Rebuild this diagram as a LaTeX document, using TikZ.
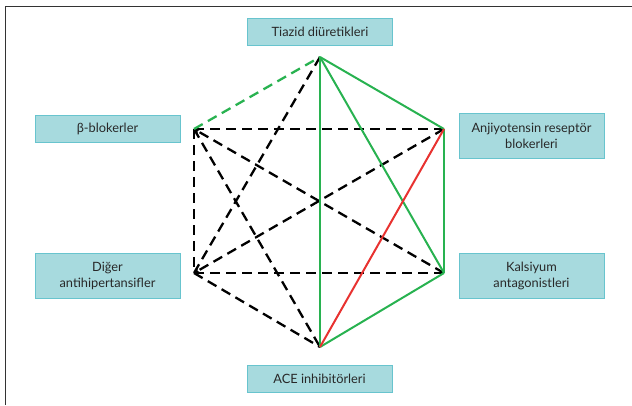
\documentclass[tikz,border=0pt]{standalone}
\usepackage{fontspec}
\setmainfont{Lato}
\usetikzlibrary{arrows.meta,positioning}

\definecolor{boxFill}{RGB}{167,218,222}
\definecolor{boxLine}{RGB}{104,196,206}
\definecolor{textGray}{RGB}{40,40,40}
\definecolor{lineGreen}{RGB}{40,178,80}
\definecolor{lineRed}{RGB}{232,50,48}

\begin{document}
\begin{tikzpicture}[
    x=1pt, y=-1pt,
    font=\fontsize{12.8}{16}\selectfont,
    drugBox/.style={
        rectangle, draw=boxLine, line width=1pt, fill=boxFill,
        text=textGray, minimum width=145pt, align=center, inner sep=3pt
    },
    oneLine/.style={minimum height=27pt},
    twoLine/.style={minimum height=45pt},
    dashLink/.style={
        line width=2.3pt, draw=black, dash pattern=on 10pt off 6pt
    },
    greenDash/.style={
        line width=2.3pt, draw=lineGreen, dash pattern=on 10pt off 6pt
    },
    greenLink/.style={line width=2pt, draw=lineGreen},
    redLink/.style={line width=2pt, draw=lineRed},
    tipEnd/.style={-{Stealth[length=6pt, width=6pt]}}
]
\useasboundingbox (0,0) rectangle (632,405);

% Frame
\draw[line width=0.8pt, draw=black!80] (5,405) -- (5,6) -- (632,6);

% Drug classes
\node[drugBox, oneLine] (tiazid) at (320,31.5) {Tiazid diüretikleri};
\node[drugBox, oneLine] (beta) at (107.5,128.5) {β-blokerler};
\node[drugBox, twoLine] (arb) at (531.5,135.5) {Anjiyotensin reseptör\\blokerleri};
\node[drugBox, twoLine] (diger) at (107.5,275.5) {Diğer\\antihipertansifler};
\node[drugBox, twoLine] (kalsiyum) at (531.5,275.5) {Kalsiyum\\antagonistleri};
\node[drugBox, oneLine] (ace) at (319.5,379) {ACE inhibitörleri};

% Hexagon corners
\coordinate (vT) at (320,57);
\coordinate (vB) at (194,129);
\coordinate (vA) at (444,129);
\coordinate (vD) at (194,273);
\coordinate (vK) at (444,273);
\coordinate (vC) at (320,347);

% Black dashed combinations
\draw[dashLink] (vT) -- (vD);
\draw[dashLink] (vB) -- (vA);
\draw[dashLink, tipEnd] (vK) -- (vB);
\draw[dashLink] (vB) -- (vC);
\draw[dashLink] (vB) -- (vD);
\draw[dashLink, tipEnd] (vA) -- (vD);
\draw[dashLink] (vD) -- (vK);
\draw[dashLink] (vD) -- (vC);

% Green and red combinations
\draw[greenDash] (vB) -- (vT);
\draw[greenLink] (vT) -- (vA);
\draw[greenLink] (vT) -- (vK);
\draw[greenLink] (vT) -- (vC);
\draw[greenLink] (vA) -- (vK);
\draw[greenLink] (vK) -- (vC);
\draw[redLink] (vA) -- (vC);

\end{tikzpicture}
\end{document}
